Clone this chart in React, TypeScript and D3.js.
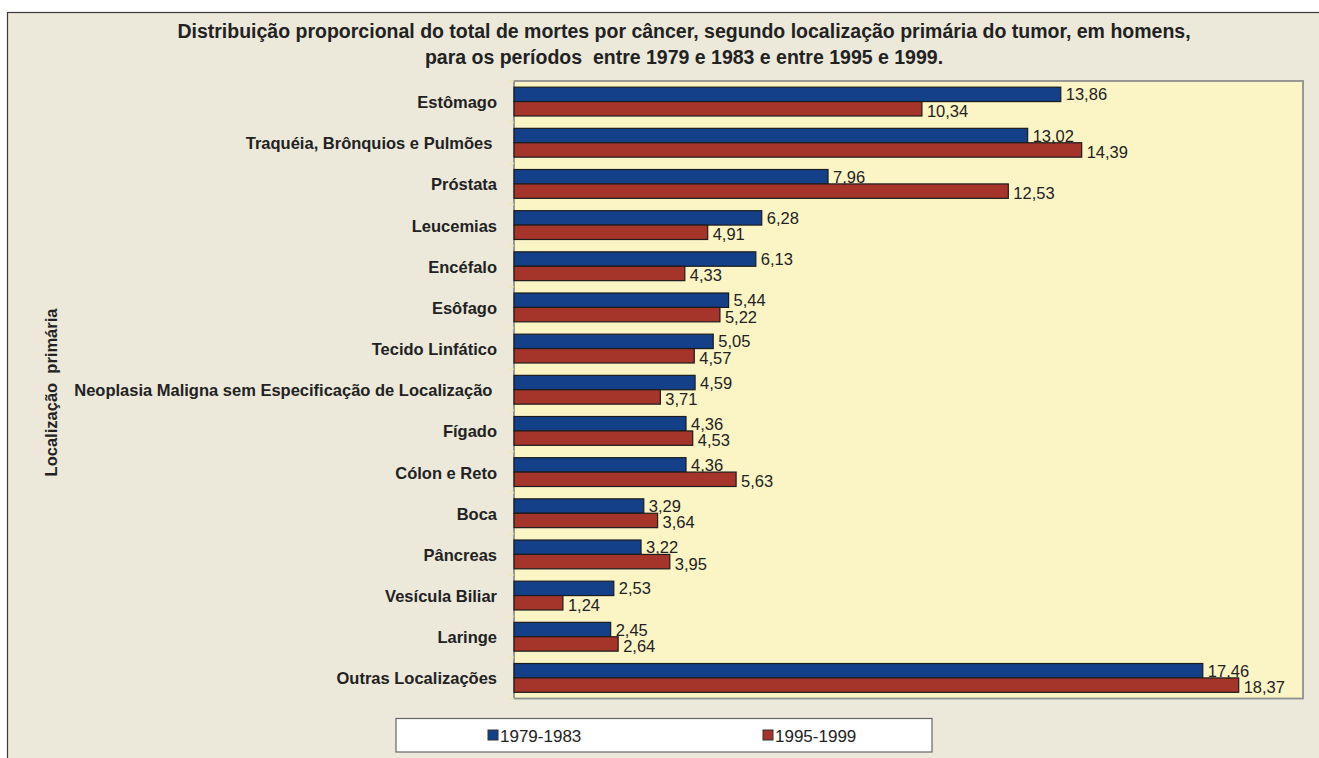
import React from "react";
import * as d3 from "d3";

const categories = [
  "Estômago",
  "Traquéia, Brônquios e Pulmões ",
  "Próstata",
  "Leucemias",
  "Encéfalo",
  "Esôfago",
  "Tecido Linfático",
  "Neoplasia Maligna sem Especificação de Localização ",
  "Fígado",
  "Cólon e Reto",
  "Boca",
  "Pâncreas",
  "Vesícula Biliar",
  "Laringe",
  "Outras Localizações",
];
const series1979 = [13.86, 13.02, 7.96, 6.28, 6.13, 5.44, 5.05, 4.59, 4.36, 4.36, 3.29, 3.22, 2.53, 2.45, 17.46];
const series1995 = [10.34, 14.39, 12.53, 4.91, 4.33, 5.22, 4.57, 3.71, 4.53, 5.63, 3.64, 3.95, 1.24, 2.64, 18.37];
const seriesNames = ["1979-1983", "1995-1999"];
const titleLines = [
  "Distribuição proporcional do total de mortes por câncer, segundo localização primária do tumor, em homens,",
  "para os períodos  entre 1979 e 1983 e entre 1995 e 1999.",
];
const yTitle = "Localização  primária";

const W = 1319;
const H = 758;
const BLUE = "#143F89";
const RED = "#A5352B";
const FONT = "'Liberation Sans', Arial, Helvetica, sans-serif";

export default function App() {
  const plot = { left: 514, right: 1303, top: 81, bottom: 698.5 };
  const x = d3.scaleLinear().domain([0, 20]).range([plot.left, plot.right]);
  const y = d3.scaleBand<string>().domain(categories).range([plot.top, plot.bottom]).paddingInner(0).paddingOuter(0);
  const bw = y.bandwidth();
  const off = bw * 0.15;
  const bh = bw * 0.35;
  const fmt = (v: number) => v.toFixed(2).replace(".", ",");

  return (
    <svg width={W} height={H} style={{ position: "absolute", left: 0, top: 0 }} xmlns="http://www.w3.org/2000/svg">
      <rect x={0} y={0} width={W} height={H} fill="#ffffff" />
      <rect x={7.5} y={12.5} width={W} height={H} fill="#ECE9DB" stroke="#3a3a3a" strokeWidth={1.2} />
      {titleLines.map((t, i) => (
        <text key={i} x={684} y={38 + i * 26} textAnchor="middle" fontFamily={FONT} fontWeight="bold" fontSize={19.5} fill="#222" style={{ whiteSpace: "pre" }}>
          {t}
        </text>
      ))}
      <rect x={plot.left} y={plot.top} width={plot.right - plot.left} height={plot.bottom - plot.top} fill="#FBF5C6" stroke="#8f8f8f" strokeWidth={1.8} />
      {categories.map((c, i) => (
        <line key={"t" + i} x1={plot.left - 5} x2={plot.left} y1={(y(c) as number)} y2={(y(c) as number)} stroke="#EFE6AE" strokeWidth={1.2} />
      ))}
      <line x1={plot.left - 5} x2={plot.left} y1={plot.bottom} y2={plot.bottom} stroke="#EFE6AE" strokeWidth={1.2} />
      {categories.map((c, i) => {
        const y0 = y(c) as number;
        const v1 = series1979[i];
        const v2 = series1995[i];
        return (
          <g key={c}>
            <rect x={x(0)} y={y0 + off} width={x(v1) - x(0)} height={bh} fill={BLUE} stroke="#1c1c1c" strokeWidth={1.2} />
            <rect x={x(0)} y={y0 + off + bh} width={x(v2) - x(0)} height={bh} fill={RED} stroke="#1c1c1c" strokeWidth={1.2} />
            <text x={x(v1) + 5} y={y0 + off + bh / 2 + 6} fontFamily={FONT} fontSize={16.5} fill="#222">
              {fmt(v1)}
            </text>
            <text x={x(v2) + 5} y={y0 + off + bh * 1.5 + 8} fontFamily={FONT} fontSize={16.5} fill="#222">
              {fmt(v2)}
            </text>
            <text x={497} y={y0 + off + bh + 6.5} textAnchor="end" fontFamily={FONT} fontWeight="bold" fontSize={16.5} fill="#222" style={{ whiteSpace: "pre" }}>
              {c}
            </text>
          </g>
        );
      })}
      <text transform={`translate(57,392.5) rotate(-90)`} textAnchor="middle" fontFamily={FONT} fontWeight="bold" fontSize={16.5} fill="#222" style={{ whiteSpace: "pre" }}>
        {yTitle}
      </text>
      <rect x={396} y={718.5} width={536} height={33.5} fill="#ffffff" stroke="#666" strokeWidth={1.2} />
      {seriesNames.map((s, i) => (
        <g key={s}>
          <rect x={488 + i * 275} y={730} width={10} height={10} fill={i === 0 ? BLUE : RED} stroke="#333" strokeWidth={1} />
          <text x={500 + i * 275} y={741.5} fontFamily={FONT} fontSize={17} fill="#222">
            {s}
          </text>
        </g>
      ))}
    </svg>
  );
}
